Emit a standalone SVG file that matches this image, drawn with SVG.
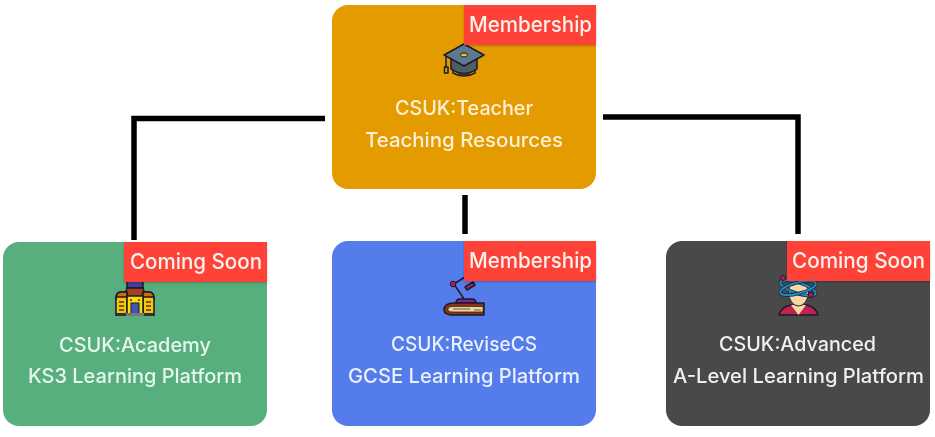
<svg xmlns="http://www.w3.org/2000/svg" width="935" height="437" viewBox="0 0 935 437">
<style>
.card{stroke:none}
.badge{fill:#fe4238;filter:url(#sh)}
.t{font-family:"Inter","Noto Sans","Liberation Sans",sans-serif;font-size:20px;font-weight:500;text-anchor:start}
.b{font-family:"Inter","Noto Sans","Liberation Sans",sans-serif;font-size:21px;font-weight:500;fill:#fff1ec}
.conn{fill:none;stroke:#000;stroke-width:5.5;stroke-linejoin:miter}
.o{stroke:#1a1a2a;stroke-width:1.5;stroke-linejoin:round}
</style>
<defs>
<filter id="sh" x="-10%" y="-10%" width="120%" height="130%"><feDropShadow dx="0" dy="1" stdDeviation="1.2" flood-color="#000" flood-opacity="0.25"/></filter>
<filter id="soft" x="-2%" y="-2%" width="104%" height="104%"><feGaussianBlur stdDeviation="0.45"/></filter>
</defs>
<rect width="935" height="437" fill="#fff"/>
<g filter="url(#soft)">
<g id="connectors">
<path class="conn" d="M325 118.500H134V240"/>
<path class="conn" d="M603 117H798V234"/>
<path class="conn" d="M465 195V234" stroke-width="6"/>
</g>
<g id="node-teacher">
<rect class="card" x="332" y="5" width="264" height="184" rx="16" fill="#e49b00"/>
<g>
<path class="o" d="M451 59L451 69Q464 78 477 69L477 59Z" fill="#4d5f62"/>
<path class="o" d="M453 70Q464 78 475 70L475 73Q464 79 453 73Z" fill="#c9a211"/>
<path class="o" d="M464 44L484 55L464 66L444 55Z" fill="#5d7a8e"/>
<ellipse cx="464" cy="55" rx="3.500" ry="2" fill="#e8c42a" stroke="#1a1a2a" stroke-width="1"/>
<path d="M446 57V67" stroke="#1a1a2a" stroke-width="1.500"/>
<rect class="o" x="444.500" y="67" width="3.500" height="6" fill="#d4a81c" stroke-width="1"/>
</g>
<rect class="badge" x="464" y="5" width="132" height="40"/>
<text class="b" x="469" y="32" textLength="123" lengthAdjust="spacingAndGlyphs">Membership</text>
<text class="t" x="395" y="115" fill="#fdf0d8" textLength="138" lengthAdjust="spacingAndGlyphs">CSUK:Teacher</text>
<text class="t" x="365" y="147" fill="#fdf0d8" textLength="198" lengthAdjust="spacingAndGlyphs">Teaching Resources</text>
</g>
<g id="node-academy">
<rect class="card" x="3" y="242" width="264" height="184" rx="16" fill="#58af7e"/>
<g>
<rect class="o" x="127" y="281" width="16" height="7" fill="#3f3f9e"/>
<path class="o" d="M124 297L127 288H143L146 297Z" fill="#a5401c"/>
<path class="o" d="M116 314V298Q116 292 121 292H127V314ZM143 314V292H149Q154 292 154 298V314Z" fill="#f4c70e"/>
<path class="o" d="M116 299Q116 292 121 292H127V297H116ZM154 299Q154 292 149 292H143V297H154Z" fill="#d9650f"/>
<rect class="o" x="127" y="296" width="16" height="18" fill="#fbd90f"/>
<rect x="131" y="303" width="8" height="11" fill="#3a55b8" stroke="#1a1a2a"/>
<path d="M119 302h5M119 306h5M119 310h5M146 302h5M146 306h5M146 310h5M130 300h2M138 300h2" stroke="#7a5a10" stroke-width="2"/>
<rect x="115" y="313" width="40" height="3" fill="#333"/>
<rect x="126" y="313" width="18" height="3" fill="#777"/>
</g>
<rect class="badge" x="124" y="242" width="143" height="40"/>
<text class="b" x="130" y="269" textLength="132" lengthAdjust="spacingAndGlyphs">Coming Soon</text>
<text class="t" x="59" y="352" fill="#e6f6ec" textLength="152" lengthAdjust="spacingAndGlyphs">CSUK:Academy</text>
<text class="t" x="28" y="383" fill="#e6f6ec" textLength="214" lengthAdjust="spacingAndGlyphs">KS3 Learning Platform</text>
</g>
<g id="node-revise">
<rect class="card" x="332" y="241" width="264" height="185" rx="16" fill="#547ceb"/>
<g>
<path d="M454 284L465 277M454 284L464 299" stroke="#1a1a2a" stroke-width="1.500" fill="none"/>
<circle cx="453" cy="284" r="2.800" fill="#c2185b" stroke="#1a1a2a"/>
<path class="o" d="M465 287L473 282L475 285L467 290Z" fill="#b0207a" stroke-width="1"/>
<path class="o" d="M456 303Q456 299 460 299H472Q476 299 476 303Z" fill="#8a1d96"/>
<path class="o" d="M484 303H454Q444 303 444 310Q444 315 454 315H484Z" fill="#8c3418"/>
<path d="M483 306.500H453Q448 306.500 448 309.500Q448 312 453 312H483Z" fill="#ecd3a0" stroke="#3a2a1a" stroke-width=".8"/>
<path d="M453 309H470M474 310H481" stroke="#6b5a3a" stroke-width="1"/>
</g>
<rect class="badge" x="464" y="241" width="132" height="40"/>
<text class="b" x="469" y="268" textLength="123" lengthAdjust="spacingAndGlyphs">Membership</text>
<text class="t" x="391" y="351" fill="#eaf0ff" textLength="146" lengthAdjust="spacingAndGlyphs">CSUK:ReviseCS</text>
<text class="t" x="348" y="383" fill="#eaf0ff" textLength="232" lengthAdjust="spacingAndGlyphs">GCSE Learning Platform</text>
</g>
<g id="node-advanced">
<rect class="card" x="666" y="241" width="264" height="185" rx="16" fill="#484848"/>
<g>
<path class="o" d="M779 315Q781 307 791 305H806Q816 307 818 315Z" fill="#c2224f"/>
<path d="M791 305L798.500 315L806 305Z" fill="#f7d7a6"/>
<ellipse cx="798.500" cy="292" rx="10" ry="14" fill="#f7d7a6" stroke="#1a1a2a"/>
<ellipse cx="798" cy="288" rx="18.500" ry="5.500" fill="none" stroke="#1b2a4a" stroke-width="3.500" transform="rotate(18 798 288)"/>
<ellipse cx="798" cy="288" rx="18.500" ry="5.500" fill="none" stroke="#1e8fc4" stroke-width="1.800" transform="rotate(18 798 288)"/>
<ellipse cx="798" cy="288" rx="18.500" ry="5.500" fill="none" stroke="#1b2a4a" stroke-width="3.500" transform="rotate(-15 798 288)"/>
<ellipse cx="798" cy="288" rx="18.500" ry="5.500" fill="none" stroke="#1e8fc4" stroke-width="1.800" transform="rotate(-15 798 288)"/>
<circle cx="783" cy="278" r="2.500" fill="#c2185b" stroke="#1a1a2a"/>
<circle cx="811" cy="295" r="2.500" fill="#c2185b" stroke="#1a1a2a"/>
</g>
<rect class="badge" x="787" y="241" width="143" height="40"/>
<text class="b" x="792" y="268" textLength="133" lengthAdjust="spacingAndGlyphs">Coming Soon</text>
<text class="t" x="719" y="351" fill="#f0f0f0" textLength="157" lengthAdjust="spacingAndGlyphs">CSUK:Advanced</text>
<text class="t" x="673" y="383" fill="#f0f0f0" textLength="251" lengthAdjust="spacingAndGlyphs">A-Level Learning Platform</text>
</g>
</g>
</svg>
